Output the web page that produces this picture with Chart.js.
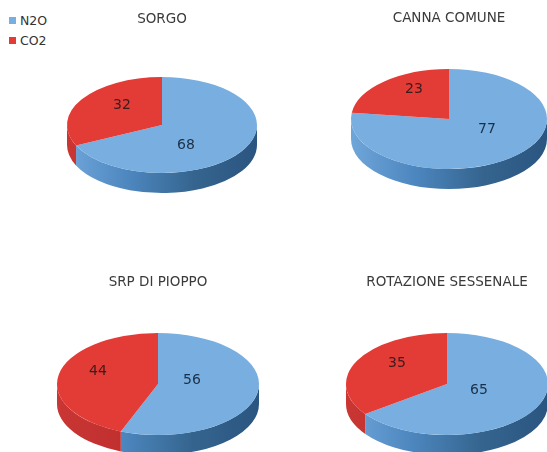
<!DOCTYPE html>
<html>
<head>
<meta charset="utf-8">
<script src="https://cdn.jsdelivr.net/npm/chart.js@4"></script>
<style>
  html, body { margin: 0; padding: 0; background: #fff; }
  body { position: relative; width: 547px; height: 452px; overflow: hidden; font-family: "DejaVu Sans", sans-serif; filter: blur(0.4px); }
  canvas { position: absolute; }
  #legend { position: absolute; left: 9px; top: 11px; font-size: 12.5px; color: #333; line-height: 19.5px; }
  #legend span { display: inline-block; width: 7px; height: 7px; margin-right: 4px; vertical-align: 1px; }
</style>
</head>
<body>
<div id="legend"></div>
<canvas id="pie0"></canvas>
<canvas id="pie1"></canvas>
<canvas id="pie2"></canvas>
<canvas id="pie3"></canvas>
<script>
const seriesLabels = ['N2O', 'CO2'];
const chartTitles = ['SORGO', 'CANNA COMUNE', 'SRP DI PIOPPO', 'ROTAZIONE SESSENALE'];
const sorgoValues = [68, 32];
const cannaValues = [77, 23];
const pioppoValues = [56, 44];
const rotazioneValues = [65, 35];
const allValues = [sorgoValues, cannaValues, pioppoValues, rotazioneValues];

const sliceColors = ['#78aee0', '#e33b36'];
const labelColors = ['#1b3048', '#3a1c1c'];
const wallStops = [
    ['#6fa6da', '#4c86be', '#35658f', '#2a5580'],
    ['#c93634', '#c0302f', '#b52c2b', '#aa2a2a']
];

// where each pie sits on the page: centre, radii, title line
const layouts = [
    { cx: 162, cy: 125, rx: 95, ry: 48, titleY: 19, top: 0, labels: [[24, 20], [-40, -20]] },
    { cx: 449, cy: 119, rx: 98, ry: 50, titleY: 18, top: 0, labels: [[38, 10], [-35, -30]] },
    { cx: 158, cy: 384, rx: 101, ry: 51, titleY: 282, top: 262, labels: [[34, -4], [-60, -13]] },
    { cx: 447, cy: 384, rx: 101, ry: 51, titleY: 282, top: 262, labels: [[32, 6], [-50, -21]] }
];
const depth = 20;
const canvasW = 228;
const canvasH = 256;
const titleSize = 13.5;

// draws the flattened disc: side wall first, then the arcs under a y squash
const tiltPlugin = {
    id: 'tilt',
    beforeDatasetDraw(chart, args, opts) {
        const ctx = chart.ctx;
        const arcs = chart.getDatasetMeta(0).data;
        const cx = arcs[0].x;
        const y0 = opts.cy - opts.top;
        const rx = opts.rx;
        const ry = opts.ry;

        arcs.forEach((arc, i) => {
            const a0 = Math.max(arc.startAngle, 0);
            const a1 = Math.min(arc.endAngle, Math.PI);
            if (a1 <= a0) return;
            const grad = ctx.createLinearGradient(cx - rx, 0, cx + rx, 0);
            wallStops[i].forEach((c, n) => grad.addColorStop(n / 3, c));
            ctx.beginPath();
            ctx.ellipse(cx, y0, rx, ry, 0, a0, a1);
            ctx.ellipse(cx, y0 + depth, rx, ry, 0, a1, a0, true);
            ctx.closePath();
            ctx.fillStyle = grad;
            ctx.fill();
        });

        ctx.save();
        ctx.translate(0, y0);
        ctx.scale(1, ry / rx);
        ctx.translate(0, -arcs[0].y);
    },
    afterDatasetDraw(chart, args, opts) {
        const ctx = chart.ctx;
        ctx.restore();
        const cx = chart.getDatasetMeta(0).data[0].x;
        const y0 = opts.cy - opts.top;
        ctx.save();
        ctx.font = '14px "DejaVu Sans"';
        ctx.textAlign = 'center';
        ctx.textBaseline = 'middle';
        chart.data.datasets[0].data.forEach((v, i) => {
            ctx.fillStyle = labelColors[i];
            ctx.fillText(String(v), cx + opts.labels[i][0], y0 + opts.labels[i][1]);
        });
        ctx.restore();
    }
};

document.getElementById('legend').innerHTML = seriesLabels
    .map((s, i) => `<div><span style="background:${sliceColors[i]}"></span>${s}</div>`)
    .join('');

allValues.forEach((values, i) => {
    const l = layouts[i];
    const canvas = document.getElementById('pie' + i);
    canvas.width = canvasW;
    canvas.height = canvasH;
    canvas.style.left = (l.cx - canvasW / 2) + 'px';
    canvas.style.top = l.top + 'px';
    const padTop = l.titleY - l.top - titleSize * 0.6;

    new Chart(canvas, {
        type: 'pie',
        data: {
            labels: seriesLabels,
            datasets: [{
                data: values,
                backgroundColor: sliceColors,
                borderWidth: 0,
                clip: false
            }]
        },
        options: {
            responsive: false,
            animation: false,
            events: [],
            radius: l.rx,
            layout: { padding: 0 },
            plugins: {
                legend: { display: false },
                tooltip: { enabled: false },
                title: {
                    display: true,
                    text: chartTitles[i],
                    color: '#3a3a3a',
                    font: { family: '"DejaVu Sans"', size: titleSize, weight: 'normal' },
                    padding: { top: padTop, bottom: 2 }
                },
                tilt: l
            }
        },
        plugins: [tiltPlugin]
    });
});
</script>
</body>
</html>
